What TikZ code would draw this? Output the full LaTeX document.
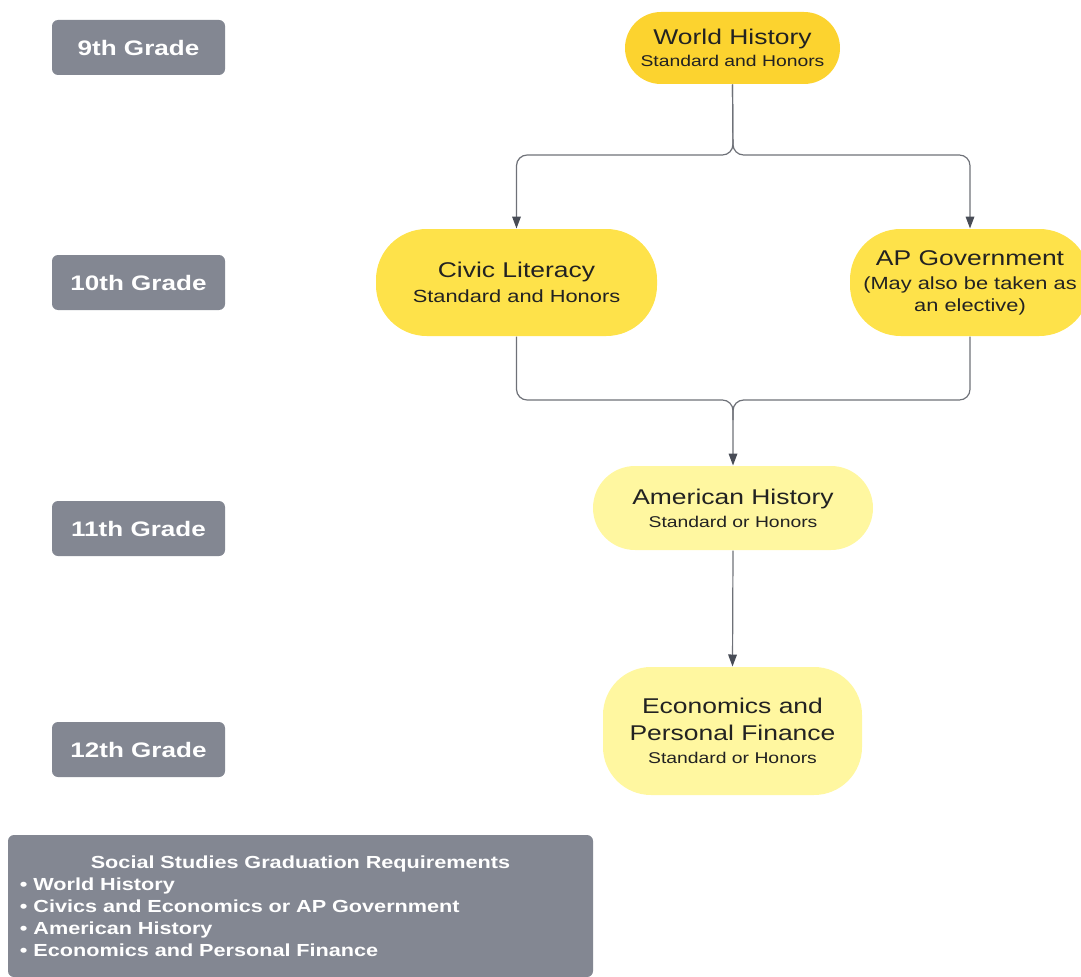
\documentclass[tikz,border=0pt]{standalone}
\usepackage{fontspec}
\setmainfont[FakeStretch=1.24]{Liberation Sans}
\usetikzlibrary{arrows.meta}

\definecolor{gradegray}{RGB}{131,135,146}
\definecolor{gold}{RGB}{252,211,47}
\definecolor{lemon}{RGB}{254,226,74}
\definecolor{paleyellow}{RGB}{255,247,160}
\definecolor{linegray}{RGB}{110,113,120}
\definecolor{arrowgray}{RGB}{72,76,86}
\definecolor{textdark}{RGB}{34,34,34}

\tikzset{
  every picture/.style={line width=0.75pt},
  grade/.style={fill=gradegray, rounded corners=4.5pt, minimum width=129.75pt, minimum height=41.25pt,
    text=white, font=\bfseries\fontsize{15.75}{18}\selectfont},
  pill/.style={align=center, text=textdark, inner sep=0pt, font=\fontsize{12}{16.5}\selectfont},
  link/.style={draw=linegray, line width=0.9pt, rounded corners=8pt},
  tip/.style={-{Triangle[length=9pt,width=6.5pt,color=arrowgray]}}
}
\newcommand{\coursetitle}[1]{{\fontsize{16}{16.5}\selectfont #1}}
\newcommand{\subl}[1]{{\fontsize{11.7}{16.5}\selectfont #1}}
\newcommand{\subm}[1]{{\fontsize{13.2}{16.5}\selectfont #1}}

\begin{document}
\begin{tikzpicture}[x=0.75pt,y=0.75pt,yscale=-1,xscale=1]
\useasboundingbox (0,0) rectangle (1081,977);

% Grade labels
\node[grade] (g9) at (138.5,47.5) {9th Grade};
\node[grade] (g10) at (138.5,282.5) {10th Grade};
\node[grade] (g11) at (138.5,528.5) {11th Grade};
\node[grade] (g12) at (138.5,749.5) {12th Grade};

% Courses
\node[pill, fill=gold, rounded corners=27pt, minimum width=161.25pt, minimum height=54pt] (world) at (732.5,48)
  {\coursetitle{World History}\\\subl{Standard and Honors}};
\node[pill, fill=lemon, rounded corners=38pt, minimum width=210.75pt, minimum height=80.25pt] (civic) at (516.5,282.5)
  {\coursetitle{Civic Literacy}\\[2.25pt]\subm{Standard and Honors}};
\node[pill, fill=lemon, rounded corners=38pt, minimum width=180pt, minimum height=80.25pt] (apgov) at (970,282.5)
  {\coursetitle{AP Government}\\[1.5pt]\subm{(May also be taken as}\\\subm{an elective)}};
\node[pill, fill=paleyellow, rounded corners=31.5pt, minimum width=210pt, minimum height=63pt] (amer) at (733,508)
  {\coursetitle{American History}\\[0.75pt]\subl{Standard or Honors}};
\node[pill, fill=paleyellow, rounded corners=36pt, minimum width=194.25pt, minimum height=96pt] (econ) at (732.5,731)
  {\coursetitle{Economics and}\\[3.75pt]\coursetitle{Personal Finance}\\[0.75pt]\subl{Standard or Honors}};

% Requirements box
\node[fill=gradegray, rounded corners=4.5pt, minimum width=438.75pt, minimum height=106.5pt,
  text width=420.75pt, align=left, text=white, font=\bfseries\fontsize{13.1}{16.5}\selectfont] (req) at (300.5,906)
  {\makebox[\hsize]{Social Studies Graduation Requirements}\\
   • World History\\
   • Civics and Economics or AP Government\\
   • American History\\
   • Economics and Personal Finance};

% Connectors
\coordinate (split) at (733,155);
\coordinate (join) at (733,400);
\coordinate (joinb) at (733,420);
\draw[link, tip] (world.south) -- (split) -| (civic.north);
\draw[link, tip] (world.south) -- (split) -| (apgov.north);
\draw[link] (civic.south) |- (join) -- (joinb);
\draw[link, tip] (apgov.south) |- (join) -- (amer.north);
\draw[link, tip] (amer.south) -- (econ.north);
\end{tikzpicture}
\end{document}
